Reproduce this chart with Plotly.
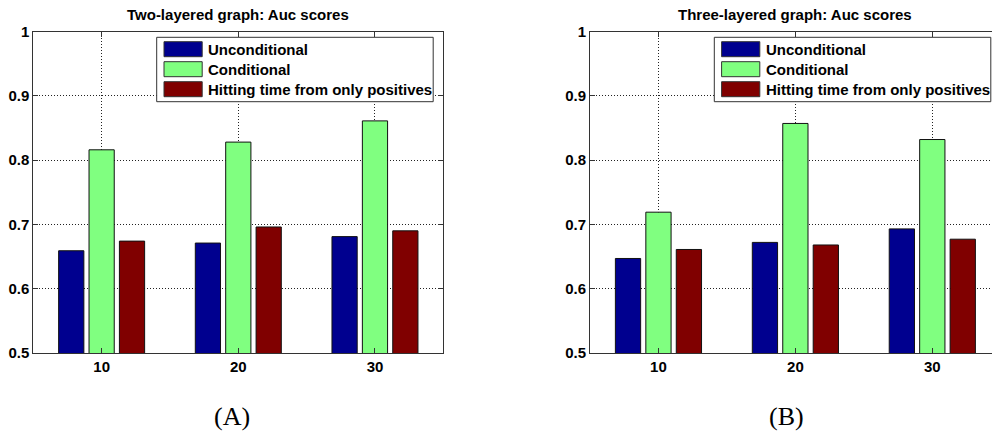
import plotly.graph_objects as go

# ---- data ----
categories = [10, 20, 30]
series_names = ["Unconditional", "Conditional", "Hitting time from only positives"]
two_layer_unconditional = [0.659, 0.671, 0.681]
two_layer_conditional = [0.816, 0.828, 0.861]
two_layer_hitting = [0.674, 0.696, 0.690]
three_layer_unconditional = [0.647, 0.672, 0.693]
three_layer_conditional = [0.719, 0.857, 0.832]
three_layer_hitting = [0.661, 0.668, 0.677]
y_tick_values = [0.5, 0.6, 0.7, 0.8, 0.9, 1.0]
y_tick_labels = ["0.5", "0.6", "0.7", "0.8", "0.9", "1"]
x_tick_labels = ["10", "20", "30"]
titles = ["Two-layered graph: Auc scores", "Three-layered graph: Auc scores"]
captions = ["(A)", "(B)"]

colors = ["#00008F", "#80FF80", "#800000"]

W, H = 992, 435
def px(x):
    return x / W
def py(y):
    return 1 - y / H

fig = go.Figure()
panels = [
    (two_layer_unconditional, two_layer_conditional, two_layer_hitting),
    (three_layer_unconditional, three_layer_conditional, three_layer_hitting),
]
for i, vals in enumerate(panels):
    xa = "x" if i == 0 else "x2"
    ya = "y" if i == 0 else "y2"
    for j, v in enumerate(vals):
        fig.add_trace(go.Bar(
            x=categories, y=v, name=series_names[j], xaxis=xa, yaxis=ya,
            marker=dict(color=colors[j], line=dict(color="#111", width=1)),
            showlegend=False,
        ))

font_main = dict(family="Liberation Sans, Arial, sans-serif", size=15, color="#000", weight="bold")

axis_common = dict(
    showline=True, linecolor="#333", linewidth=1,
    ticks="inside", ticklen=5, tickcolor="#333",
    showgrid=True, gridcolor="#222", griddash="1px,2px", gridwidth=1,
    zeroline=False, tickfont=font_main, automargin=False,
)
ydom = [py(353), py(31.5)]
fig.update_layout(
    width=W, height=H, margin=dict(l=0, r=0, t=0, b=0, pad=0, autoexpand=False),
    paper_bgcolor="white", plot_bgcolor="white",
    barmode="group", bargap=0.333, bargroupgap=0.17,
    xaxis=dict(domain=[px(33.3), px(443.3)], range=[5, 35], anchor="y",
               tickvals=categories, ticktext=x_tick_labels, mirror="ticks", **axis_common),
    yaxis=dict(domain=ydom, range=[0.5, 1.0], anchor="x",
               tickvals=y_tick_values, ticktext=y_tick_labels, mirror="ticks", **axis_common),
    xaxis2=dict(domain=[px(590), 1.0], range=[5, 34.36], anchor="y2",
                tickvals=categories, ticktext=x_tick_labels, mirror="ticks", **axis_common),
    yaxis2=dict(domain=ydom, range=[0.5, 1.0], anchor="x2",
                tickvals=y_tick_values, ticktext=y_tick_labels, mirror=False, **axis_common),
    showlegend=False,
)

# titles and captions
title_x = [238.3, 795.4]
caption_x = [232, 786.3]
for i in range(2):
    fig.add_annotation(text=titles[i], x=px(title_x[i]), y=py(14), xref="paper", yref="paper",
                       showarrow=False, xanchor="center", yanchor="middle", font=font_main)
    fig.add_annotation(text=captions[i], x=px(caption_x[i]), y=py(416.7), xref="paper", yref="paper",
                       showarrow=False, xanchor="center", yanchor="middle",
                       font=dict(family="Liberation Serif, Times New Roman, serif", size=26, color="#000"))

# legends (drawn as boxes in paper space)
legend_left = [156.7, 714.3]
legend_w = 276.5
for i in range(2):
    x0 = legend_left[i]
    fig.add_shape(type="rect", xref="paper", yref="paper",
                  x0=px(x0), x1=px(x0 + legend_w), y0=py(101.7), y1=py(37.3),
                  line=dict(color="#333", width=1), fillcolor="white", layer="above")
    for j in range(3):
        cy = 49.2 + 20 * j
        fig.add_shape(type="rect", xref="paper", yref="paper",
                      x0=px(x0 + 7.3), x1=px(x0 + 45.5), y0=py(cy + 7.5), y1=py(cy - 7.5),
                      line=dict(color="#333", width=1), fillcolor=colors[j], layer="above")
        fig.add_annotation(text=series_names[j], x=px(x0 + 49.5), y=py(cy), xref="paper", yref="paper",
                           showarrow=False, xanchor="left", yanchor="middle", font=font_main)

fig.write_html(
    "out.html",
    config={"displayModeBar": False},
    post_script=(
        "document.body.style.margin='0';"
        "document.body.style.overflow='hidden';"
        "document.documentElement.style.overflow='hidden';"
        "var d=document.getElementById('{plot_id}');"
        "d.style.position='fixed';d.style.top='0px';d.style.left='0px';"
    ),
)
